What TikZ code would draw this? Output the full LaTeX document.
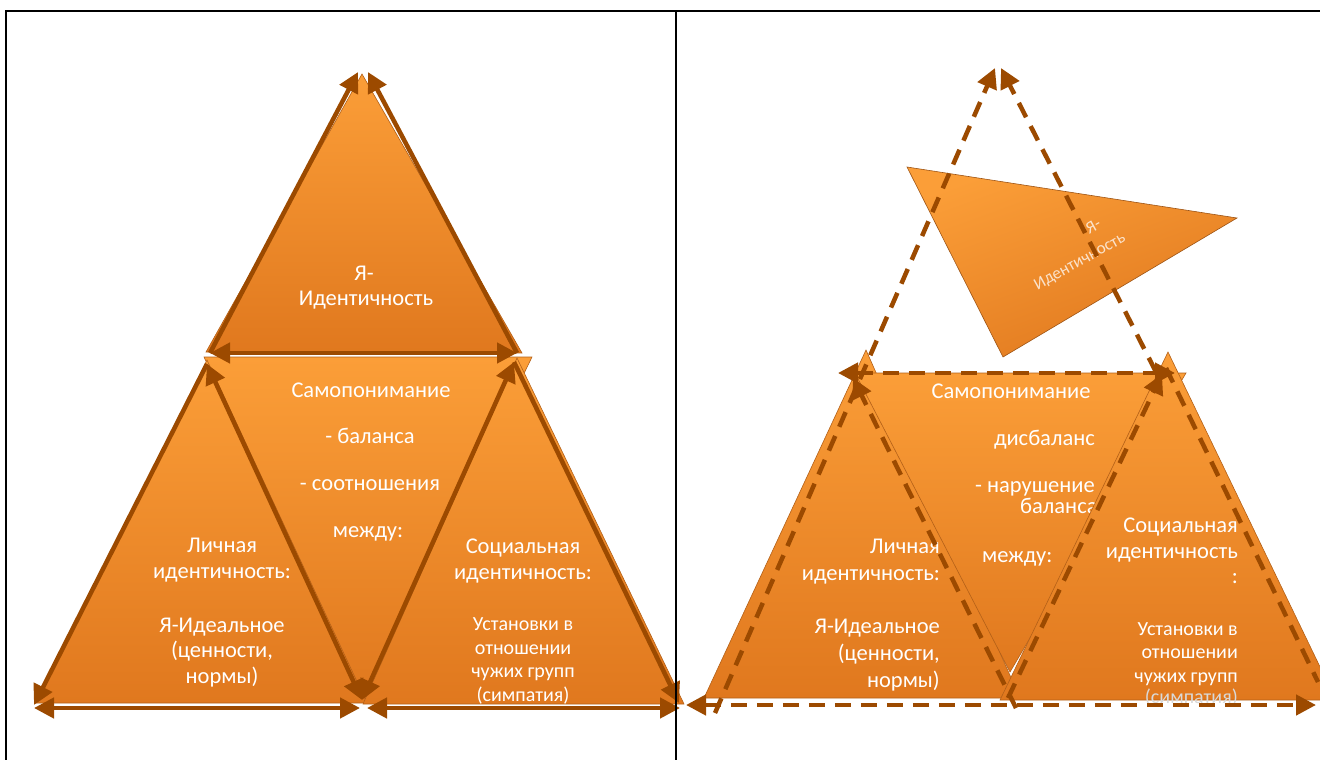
\documentclass[tikz,border=0pt]{standalone}
\usepackage{fontspec}
\setmainfont{Carlito}
\usetikzlibrary{arrows.meta}
\definecolor{arrowbrown}{RGB}{156,74,0}
\definecolor{orangeL}{RGB}{251,158,56}
\definecolor{orangeD}{RGB}{224,120,30}
\tikzset{
  facefill/.style={top color=orangeL, bottom color=orangeD, draw=orangeD!80!black, line width=0.6pt},
  solidarr/.style={draw=arrowbrown, line width=4.5pt},
  dasharr/.style={draw=arrowbrown, line width=4.5pt, dash pattern=on 16pt off 10pt},
  txt/.style={text=white, font=\fontsize{22.5}{26}\selectfont, inner sep=0pt, anchor=base},
  smalltxt/.style={txt, font=\fontsize{20}{23}\selectfont},
  tiltedtxt/.style={text=white, opacity=0.75, font=\fontsize{17}{20}\selectfont, rotate=29, inner sep=0pt},
  >={Triangle[length=20pt,width=20pt]},
}
\begin{document}
\begin{tikzpicture}[x=1pt,y=-1pt]
\useasboundingbox (0,0) rectangle (1320,760);
%%% left cell: balance
\draw[facefill] (362,74) -- (522,353) -- (206,352) -- cycle;
\draw[facefill] (204,357) -- (532,357) -- (365,700) -- cycle;
\draw[facefill] (207,360) -- (367,703) -- (36,703) -- cycle;
\draw[facefill] (517,358) -- (684,704) -- (363,704) -- cycle;
% texts
\node[txt] (ya1) at (364,280) {Я-};
\node[txt] (ya2) at (366,305) {Идентичность};
\node[txt] (sp1) at (371,397) {Самопонимание};
\node[txt] (sp2) at (370,443) {- баланса};
\node[txt] (sp3) at (370,490) {- соотношения};
\node[txt] (sp4) at (368,537) {между:};
\node[txt] (li1) at (222,552) {Личная};
\node[txt] (li2) at (222,578) {идентичность:};
\node[txt] (li3) at (222,632) {Я-Идеальное};
\node[txt] (li4) at (222,657) {(ценности,};
\node[txt] (li5) at (222,683) {нормы)};
\node[txt] (so1) at (523,553) {Социальная};
\node[txt] (so2) at (523,579) {идентичность:};
\node[smalltxt] (so3) at (523,630) {Установки в};
\node[smalltxt] (so4) at (523,654) {отношении};
\node[smalltxt] (so5) at (523,677) {чужих групп};
\node[smalltxt] (so6) at (523,701) {(симпатия)};
% corners of the frame of arrows
\coordinate (LA1) at (358,72);
\coordinate (LA2) at (368,72);
\coordinate (LL) at (210,353);
\coordinate (LR) at (517,353);
\coordinate (LL2) at (207,364);
\coordinate (LR2) at (514,362);
\coordinate (LB1) at (34,705);
\coordinate (LB2) at (362,700);
\coordinate (LB3) at (679,703);
\coordinate (LD1) at (34,708);
\coordinate (LD2) at (360,708);
\coordinate (LD3) at (367,708);
\coordinate (LD4) at (680,708);
\draw[solidarr,->] (LL) -- (LA1);
\draw[solidarr,->] (LR) -- (LA2);
\draw[solidarr,<->] (LL) -- (LR);
\draw[solidarr,->] (LL2) -- (LB1);
\draw[solidarr,<->] (LB2) -- (LL2);
\draw[solidarr,<->] (LB2) -- (LR2);
\draw[solidarr,->] (LR2) -- (LB3);
\draw[solidarr,<->] (LD1) -- (LD2);
\draw[solidarr,<->] (LD3) -- (LD4);
%%% right cell: imbalance
\draw[top color=orangeL, bottom color=orangeD, shading angle=20, draw=orangeD!70!black, line width=0.6pt]
  (907,167) -- (1237,218) -- (1003,357) -- cycle;
\node[tiltedtxt] (ry1) at (1093,226) {Я-};
\node[tiltedtxt] (ry2) at (1080,262) {Идентичность};
\draw[facefill] (866,350) -- (1020,698) -- (704,698) -- cycle;
\draw[facefill] (855,373) -- (1186,373) -- (1010,672) -- cycle;
\node[txt] (rs1) at (1011,398) {Самопонимание};
\node[txt,anchor=base east] (rs2) at (1095,445) {дисбаланс};
\node[txt,anchor=base east] (rs3) at (1095,492) {- нарушение};
\node[txt,anchor=base west] (rs4) at (1020,513) {баланса};
\node[txt,anchor=base west] (rs5) at (982,562) {между:};
\node[txt,anchor=base east] (rl1) at (940,553) {Личная};
\node[txt,anchor=base east] (rl2) at (940,580) {идентичность:};
\node[txt,anchor=base east] (rl3) at (940,633) {Я-Идеальное};
\node[txt,anchor=base east] (rl4) at (940,660) {(ценности,};
\node[txt,anchor=base east] (rl5) at (940,687) {нормы)};
\draw[facefill] (1168,352) -- (1336,700) -- (1000,700) -- cycle;
\node[txt,anchor=base east] (rr1) at (1238,532) {Социальная};
\node[txt,anchor=base east] (rr2) at (1238,558) {идентичность};
\node[txt,anchor=base east] (rr3) at (1238,583) {:};
\node[smalltxt,anchor=base east] (rr4) at (1238,635) {Установки в};
\node[smalltxt,anchor=base east] (rr5) at (1238,658) {отношении};
\node[smalltxt,anchor=base east] (rr6) at (1238,682) {чужих групп};
\node[smalltxt,anchor=base east,text=white!85!black] (rr7) at (1238,703) {(симпатия)};
% dashed frame of arrows
\coordinate (RA1) at (995,68);
\coordinate (RA2) at (1001,68);
\coordinate (RBL) at (715,713);
\coordinate (RM1) at (838,373);
\coordinate (RM2) at (1175,373);
\coordinate (RT) at (1156,372);
\coordinate (RS) at (1166,368);
\coordinate (RBR) at (1318,682);
\coordinate (RI1) at (853,378);
\coordinate (RI2) at (1016,708);
\coordinate (RI3) at (1008,698);
\coordinate (RI4) at (1162,374);
\coordinate (RD1) at (686,705);
\coordinate (RD2) at (1316,705);
\draw[dasharr,->] (RBL) -- (RA1);
\draw[dasharr,->] (RT) -- (RA2);
\draw[dasharr,<->] (RM1) -- (RM2);
\draw[dasharr] (RS) -- (RBR);
\draw[dasharr,->] (RI2) -- (RI1);
\draw[dasharr,->] (RI3) -- (RI4);
\draw[dasharr,<->] (RD1) -- (RD2);
%%% table lines
\draw[line width=1.5pt] (6,760) -- (6,11) -- (1320,11);
\draw[line width=1.5pt] (676,11) -- (676,760);
\end{tikzpicture}
\end{document}
